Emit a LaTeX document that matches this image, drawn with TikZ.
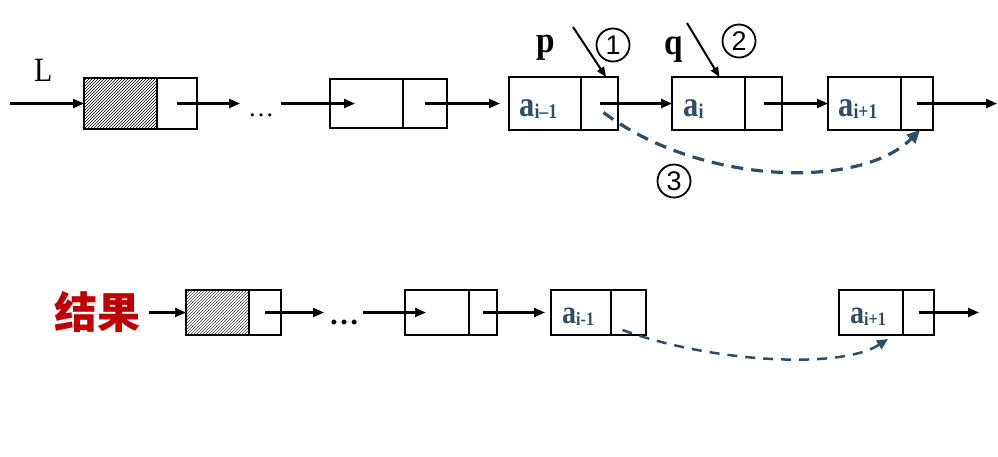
\documentclass[tikz,border=0pt]{standalone}
\usepackage{fontspec}
\setmainfont{Liberation Serif}
\newfontfamily\cjk{Noto Sans CJK SC}
\newfontfamily\numf{Liberation Sans}
\usetikzlibrary{arrows.meta,patterns}
\definecolor{dblue}{HTML}{2E4D66}
\definecolor{dred}{HTML}{C00000}
\newcommand\lnode[7][]{%
  \node[cell,#1,minimum width=#4pt,minimum height=#7pt] (#2d) at (#3,#6) {};
  \node[cell,minimum width=#5pt,minimum height=#7pt] (#2p) at (#2d.north east) {};}
\newcommand\asub[2]{\scalebox{0.85}[1]{a\raisebox{-2pt}{\fontsize{#2}{#2}\selectfont #1}}}
\begin{document}
\begin{tikzpicture}[x=1pt,y=-1pt,
  cell/.style={draw,line width=2.4pt,anchor=north west,inner sep=0pt,outer sep=0pt},
  arr/.style={line width=2.2pt,-{Triangle[length=11pt,width=9pt]}},
  slim/.style={line width=2pt,-{Triangle[length=10pt,width=8pt]}},
  dashtop/.style={draw=dblue,line width=3.2pt,dash pattern=on 12pt off 8pt,-{Triangle[length=13pt,width=12pt]}},
  dashbot/.style={draw=dblue,line width=2.5pt,dash pattern=on 10pt off 8pt,-{Triangle[length=11pt,width=10pt]}},
  atext/.style={text=dblue,anchor=base west,inner sep=0pt,font=\fontsize{36}{36}\selectfont\bfseries},
  btext/.style={text=dblue,anchor=base west,inner sep=0pt,font=\fontsize{33}{33}\selectfont\bfseries},
  circ/.style={circle,draw,line width=1.8pt,minimum size=33pt,inner sep=0pt,font=\numf\fontsize{27}{27}\selectfont},
]
\useasboundingbox (0,0) rectangle (998,456);

% ---------- top row ----------
\lnode[pattern=north east lines]{h1}{84}{73}{40}{78}{51}
\lnode{b2}{330}{73}{44}{79}{49}
\lnode{b3}{509}{72}{37}{77}{53}
\lnode{b4}{672}{73}{37}{77}{53}
\lnode{b5}{828}{73}{32}{77}{53}

\node[anchor=base west,inner sep=0pt,font=\fontsize{34}{34}\selectfont] (L) at (34,81) {\scalebox{0.88}[1]{L}};
\coordinate (Lin) at (10,103.5);
\draw[arr] (Lin) -- (h1d.west);
\coordinate (e1) at (240,103.5);
\draw[arr] (h1p.center) -- (e1);
\node[anchor=base,inner sep=0pt,font=\fontsize{26}{26}\selectfont] (dt1) at (261,116) {…};
\coordinate (s2) at (281,103.5);
\draw[arr] (s2) -- ([xshift=25pt]b2d.west);
\coordinate (t3) at (500,103.5);
\draw[arr] (b2p.center) -- (t3);
\draw[arr] (b3p.center) -- (b4d.west);
\draw[arr] (b4p.center) -- (b5d.west);
\coordinate (e5) at (997,103.5);
\draw[arr] (b5p.center) -- (e5);

\node[atext] (t3a) at (519,116) {\asub{i–1}{21}};
\node[atext] (t4a) at (683,116) {\asub{i}{21}};
\node[atext] (t5a) at (838,116) {\asub{i+1}{21}};

\node[anchor=base west,inner sep=0pt,font=\fontsize{37}{37}\selectfont\bfseries] (p) at (536,52) {\scalebox{0.9}[1]{p}};
\node[anchor=base west,inner sep=0pt,font=\fontsize{37}{37}\selectfont\bfseries] (q) at (664,54) {\scalebox{0.9}[1]{q}};
\coordinate (ps) at (573,27);
\draw[slim] (ps) -- ([xshift=6.5pt]b3p.north);
\coordinate (qs) at (687,23);
\draw[slim] (qs) -- ([xshift=11pt]b4d.north);
\node[circ] (n1) at (613,45) {1};
\node[circ] (n2) at (739,41) {2};
\node[circ] (n3) at (674,181) {3};

\draw[dashtop] ([xshift=4pt,yshift=-9pt]b3p.center) .. controls (700,185) and (860,190) .. ([xshift=3pt]b5p.south);

% ---------- bottom row ----------
\lnode[pattern=north east lines,pattern color=black!75]{c1}{186}{63}{32}{290}{45}
\lnode{c2}{405}{64}{28}{290}{45}
\lnode{c3}{551}{60}{35}{290}{45}
\lnode{c5}{839}{64}{31}{290}{45}

\node[text=dred,inner sep=0pt,font=\cjk\bfseries\fontsize{43}{43}\selectfont] (res) at (97,312) {结果};
\path (res.east |- c1d.west) ++(9,0) coordinate (rs);
\draw[arr] (rs) -- (c1d.west);
\coordinate (f1) at (324,312.5);
\draw[arr] (c1p.center) -- (f1);
\node[anchor=base,inner sep=0pt,font=\fontsize{30}{30}\selectfont\bfseries] (dt2) at (344,324) {…};
\coordinate (g2) at (363,312.5);
\draw[arr] (g2) -- ([xshift=21pt]c2d.west);
\draw[arr] (c2p.center) -- ([xshift=-6pt]c3d.west);
\coordinate (f5) at (979,312.5);
\draw[arr] (c5p.center) -- (f5);

\node[btext] (u3a) at (562,323) {\asub{i-1}{19}};
\node[btext] (u5a) at (850,323) {\asub{i+1}{19}};

\draw[dashbot] ([xshift=-6pt,yshift=-17.5pt]c3p.center) .. controls (710,362) and (840,370) .. ([xshift=-15pt,yshift=-4pt]c5d.south east);
\end{tikzpicture}
\end{document}
